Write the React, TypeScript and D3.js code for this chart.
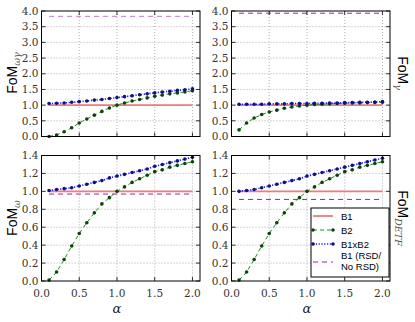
import React from "react";
import * as d3 from "d3";

// alpha values shared by all panels
const alphas = [0.1, 0.2, 0.3, 0.4, 0.5, 0.6, 0.7, 0.8, 0.9, 1.0, 1.1, 1.2, 1.3, 1.4, 1.5, 1.6, 1.7, 1.8, 1.9, 2.0];

// FoM_wg (top left)
const wgB2 = [0.0, 0.05, 0.15, 0.28, 0.43, 0.56, 0.68, 0.8, 0.91, 1.0, 1.07, 1.13, 1.18, 1.23, 1.28, 1.32, 1.36, 1.39, 1.42, 1.46];
const wgB1xB2 = [1.05, 1.06, 1.07, 1.09, 1.11, 1.13, 1.16, 1.18, 1.21, 1.24, 1.27, 1.3, 1.33, 1.36, 1.39, 1.42, 1.44, 1.47, 1.49, 1.52];
const wgRsd = 3.83;

// FoM_g (top right)
const gB2 = [0.21, 0.43, 0.59, 0.7, 0.78, 0.84, 0.9, 0.94, 0.97, 1.0, 1.02, 1.03, 1.04, 1.05, 1.06, 1.07, 1.07, 1.08, 1.08, 1.09];
const gB1xB2 = [1.03, 1.03, 1.03, 1.03, 1.04, 1.04, 1.04, 1.05, 1.05, 1.05, 1.06, 1.06, 1.07, 1.07, 1.08, 1.08, 1.09, 1.09, 1.1, 1.11];
const gRsd = 3.93;

// FoM_w (bottom left)
const wB2 = [0.01, 0.1, 0.24, 0.39, 0.53, 0.65, 0.76, 0.86, 0.93, 1.0, 1.05, 1.1, 1.14, 1.18, 1.22, 1.24, 1.27, 1.29, 1.31, 1.33];
const wB1xB2 = [1.01, 1.02, 1.03, 1.04, 1.06, 1.08, 1.1, 1.12, 1.15, 1.17, 1.19, 1.21, 1.23, 1.25, 1.28, 1.3, 1.32, 1.34, 1.36, 1.38];
const wRsd = 0.97;

// FoM_DETF (bottom right)
const dB2 = [0.01, 0.1, 0.24, 0.39, 0.53, 0.65, 0.76, 0.86, 0.93, 1.0, 1.05, 1.1, 1.14, 1.18, 1.22, 1.24, 1.27, 1.29, 1.31, 1.33];
const dB1xB2 = [1.0, 1.01, 1.02, 1.04, 1.06, 1.08, 1.1, 1.12, 1.14, 1.17, 1.19, 1.21, 1.23, 1.25, 1.27, 1.29, 1.31, 1.33, 1.35, 1.37];
const dRsd = 0.91;

const xTicks = [0.0, 0.5, 1.0, 1.5, 2.0];
const topTicks = [0.0, 0.5, 1.0, 1.5, 2.0, 2.5, 3.0, 3.5, 4.0];
const bottomTicks = [0.0, 0.2, 0.4, 0.6, 0.8, 1.0, 1.2, 1.4];

const legendLabels = ["B1", "B2", "B1xB2", "B1 (RSD/", "No RSD)"];

const serif = "'DejaVu Serif', 'Liberation Serif', serif";
const sans = "'Liberation Sans', 'DejaVu Sans', sans-serif";

const cRed = "#f27a7a";
const cGreen = "#228b22";
const cGreenDot = "#0c420c";
const cBlue = "#1a1aff";
const cBlueDot = "#101080";
const cPurple = "#a020a0";

type PanelProps = {
  left: number;
  top: number;
  width: number;
  height: number;
  yMax: number;
  yTicks: number[];
  b2: number[];
  b1xb2: number[];
  rsd: number;
  showX: boolean;
  rsdOpacity: number;
};

function Panel(p: PanelProps) {
  const x = d3.scaleLinear().domain([0, 2.1]).range([p.left, p.left + p.width]);
  const y = d3.scaleLinear().domain([0, p.yMax]).range([p.top + p.height, p.top]);
  const line = d3
    .line<number>()
    .x((_, i) => x(alphas[i]))
    .y((d) => y(d));
  const tl = 4;
  return (
    <g>
      {/* grid */}
      {xTicks.slice(1).map((t) => (
        <line key={"gx" + t} x1={x(t)} x2={x(t)} y1={p.top} y2={p.top + p.height} stroke="#777" strokeWidth={0.6} strokeDasharray="1,2" />
      ))}
      {p.yTicks.slice(1, -1).map((t) => (
        <line key={"gy" + t} x1={p.left} x2={p.left + p.width} y1={y(t)} y2={y(t)} stroke="#777" strokeWidth={0.6} strokeDasharray="1,2" />
      ))}
      {/* B1 */}
      <line x1={x(0.1)} x2={x(2.0)} y1={y(1)} y2={y(1)} stroke={cRed} strokeWidth={1.8} />
      {/* B1 RSD */}
      <line x1={x(0.1)} x2={x(2.0)} y1={y(p.rsd)} y2={y(p.rsd)} stroke={cPurple} strokeOpacity={p.rsdOpacity} strokeWidth={1} strokeDasharray="5,4" />
      {/* B2 */}
      <path d={line(p.b2) || ""} fill="none" stroke={cGreen} strokeWidth={1} strokeDasharray="4,3" />
      {p.b2.map((v, i) => (
        <circle key={"b2" + i} cx={x(alphas[i])} cy={y(v)} r={1.8} fill={cGreenDot} />
      ))}
      {/* B1xB2 */}
      <path d={line(p.b1xb2) || ""} fill="none" stroke={cBlue} strokeWidth={1.6} strokeDasharray="1.2,1.6" />
      {p.b1xb2.map((v, i) => (
        <circle key={"bb" + i} cx={x(alphas[i])} cy={y(v)} r={1.8} fill={cBlueDot} />
      ))}
      {/* frame */}
      <rect x={p.left} y={p.top} width={p.width} height={p.height} fill="none" stroke="#000" strokeWidth={1} />
      {/* ticks */}
      {xTicks.map((t) => (
        <g key={"tx" + t}>
          <line x1={x(t)} x2={x(t)} y1={p.top + p.height} y2={p.top + p.height - tl} stroke="#000" strokeWidth={0.8} />
          <line x1={x(t)} x2={x(t)} y1={p.top} y2={p.top + tl} stroke="#000" strokeWidth={0.8} />
          {p.showX && (
            <text x={x(t)} y={p.top + p.height + 16} textAnchor="middle" fontFamily={serif} fontSize={10.5} fill="#333">
              {t.toFixed(1)}
            </text>
          )}
        </g>
      ))}
      {p.yTicks.map((t) => (
        <g key={"ty" + t}>
          <line x1={p.left} x2={p.left + tl} y1={y(t)} y2={y(t)} stroke="#000" strokeWidth={0.8} />
          <line x1={p.left + p.width} x2={p.left + p.width - tl} y1={y(t)} y2={y(t)} stroke="#000" strokeWidth={0.8} />
          <text x={p.left - 3} y={y(t) + 3.7} textAnchor="end" fontFamily={serif} fontSize={10.5} fill="#333">
            {t.toFixed(1)}
          </text>
        </g>
      ))}
      {p.showX && (
        <text x={x(1.0)} y={p.top + p.height + 32} textAnchor="middle" fontFamily={serif} fontStyle="italic" fontSize={13} fill="#222">
          α
        </text>
      )}
    </g>
  );
}

function Legend({ x0, y0 }: { x0: number; y0: number }) {
  const rows = [216, 230, 244, 262];
  return (
    <g>
      <rect x={x0} y={y0} width={78} height={69} fill="#fff" stroke="#000" strokeWidth={1} />
      <line x1={313} x2={333} y1={rows[0]} y2={rows[0]} stroke={cRed} strokeWidth={1.8} />
      <line x1={313} x2={333} y1={rows[1]} y2={rows[1]} stroke={cGreen} strokeWidth={1} strokeDasharray="4,3" />
      <circle cx={313} cy={rows[1]} r={1.8} fill={cGreenDot} />
      <circle cx={333} cy={rows[1]} r={1.8} fill={cGreenDot} />
      <line x1={313} x2={333} y1={rows[2]} y2={rows[2]} stroke={cBlue} strokeWidth={1.6} strokeDasharray="1.2,1.6" />
      <circle cx={313} cy={rows[2]} r={1.8} fill={cBlueDot} />
      <circle cx={333} cy={rows[2]} r={1.8} fill={cBlueDot} />
      <line x1={313} x2={333} y1={rows[3]} y2={rows[3]} stroke={cPurple} strokeWidth={1} strokeDasharray="5,4" />
      {legendLabels.slice(0, 3).map((l, i) => (
        <text key={l} x={341} y={rows[i] + 3.5} fontFamily={sans} fontSize={9.5}>
          {l}
        </text>
      ))}
      <text x={341} y={258.5} fontFamily={sans} fontSize={9.5}>{legendLabels[3]}</text>
      <text x={341} y={270} fontFamily={sans} fontSize={9.5}>{legendLabels[4]}</text>
    </g>
  );
}

function FomLabel({ x, y, sub, rot }: { x: number; y: number; sub: string; rot: number }) {
  return (
    <text transform={`translate(${x},${y}) rotate(${rot})`} textAnchor="middle" fontFamily={sans} fontSize={14}>
      FoM
      <tspan fontFamily={serif} fontStyle="italic" fontSize={9.5} dy={3} fill="#555">
        {sub}
      </tspan>
    </text>
  );
}

export default function App() {
  const W = 415;
  const H = 322;
  const pw = 158.5;
  const ph = 125.5;
  return (
    <svg width={W} height={H} style={{ position: "absolute", left: 0, top: 0, background: "#fff" }}>
      <Panel left={41.5} top={11} width={pw} height={ph} yMax={4} yTicks={topTicks} b2={wgB2} b1xb2={wgB1xB2} rsd={wgRsd} showX={false} rsdOpacity={0.6} />
      <Panel left={231.5} top={11} width={pw} height={ph} yMax={4} yTicks={topTicks} b2={gB2} b1xb2={gB1xB2} rsd={gRsd} showX={false} rsdOpacity={1} />
      <Panel left={41.5} top={155.5} width={pw} height={ph} yMax={1.4} yTicks={bottomTicks} b2={wB2} b1xb2={wB1xB2} rsd={wRsd} showX={true} rsdOpacity={1} />
      <Panel left={231.5} top={155.5} width={pw} height={ph} yMax={1.4} yTicks={bottomTicks} b2={dB2} b1xb2={dB1xB2} rsd={dRsd} showX={true} rsdOpacity={1} />
      <Legend x0={311} y0={208} />
      <FomLabel x={17} y={73} sub="ωγ" rot={-90} />
      <FomLabel x={17} y={218} sub="ω" rot={-90} />
      <FomLabel x={398} y={73} sub="γ" rot={90} />
      <FomLabel x={398} y={218} sub="DETF" rot={90} />
    </svg>
  );
}
